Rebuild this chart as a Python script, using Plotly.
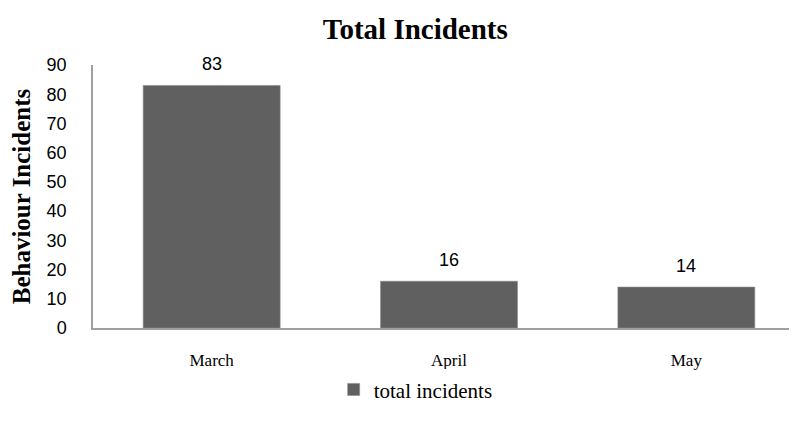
import plotly.graph_objects as go

categories = ["March", "April", "May"]
values = [83, 16, 14]
series_name = "total incidents"
y_ticks = [0, 10, 20, 30, 40, 50, 60, 70, 80, 90]

fig = go.Figure()
fig.add_trace(go.Bar(
    x=categories, y=values, name=series_name,
    marker=dict(color="#606060", line=dict(width=0.6, color="#8a8a8a")),
))
for c, v in zip(categories, values):
    fig.add_annotation(x=c, y=v, text=str(v), showarrow=False, yanchor="middle", yshift=21,
                       font=dict(family="Liberation Sans, Arial", size=18, color="#000000"))
fig.update_layout(
    width=797, height=420,
    margin=dict(l=85, r=0, t=57, b=100),
    paper_bgcolor="white", plot_bgcolor="white",
    bargap=0.423,
    title=dict(text="<b>Total Incidents</b>", x=0.511, xanchor="center", y=0.95, yanchor="middle",
               font=dict(family="Liberation Serif, Times New Roman", size=29, color="#000")),
    showlegend=True,
    legend=dict(orientation="h", x=0.338, xanchor="left", y=-0.235, yanchor="middle",
                font=dict(family="Liberation Serif, Times New Roman", size=21, color="#000"),
                itemwidth=30),
    xaxis=dict(showline=True, linecolor="#a0a0a0", linewidth=1.5, ticks="", automargin=False,
               tickfont=dict(family="Liberation Serif, Times New Roman", size=17, color="#000"),
               ticklabelstandoff=16),
    yaxis=dict(range=[0, 90], tickvals=y_ticks, showline=True, linecolor="#a0a0a0", linewidth=1.5,
               showgrid=False, zeroline=False, ticks="", automargin=False,
               tickfont=dict(family="Liberation Sans, Arial", size=18, color="#000"),
               ticklabelstandoff=21,
               title=dict(text="<b>Behaviour Incidents</b>", standoff=17,
                          font=dict(family="Liberation Serif, Times New Roman", size=25, color="#000"))),
)
fig.write_html("out.html")
